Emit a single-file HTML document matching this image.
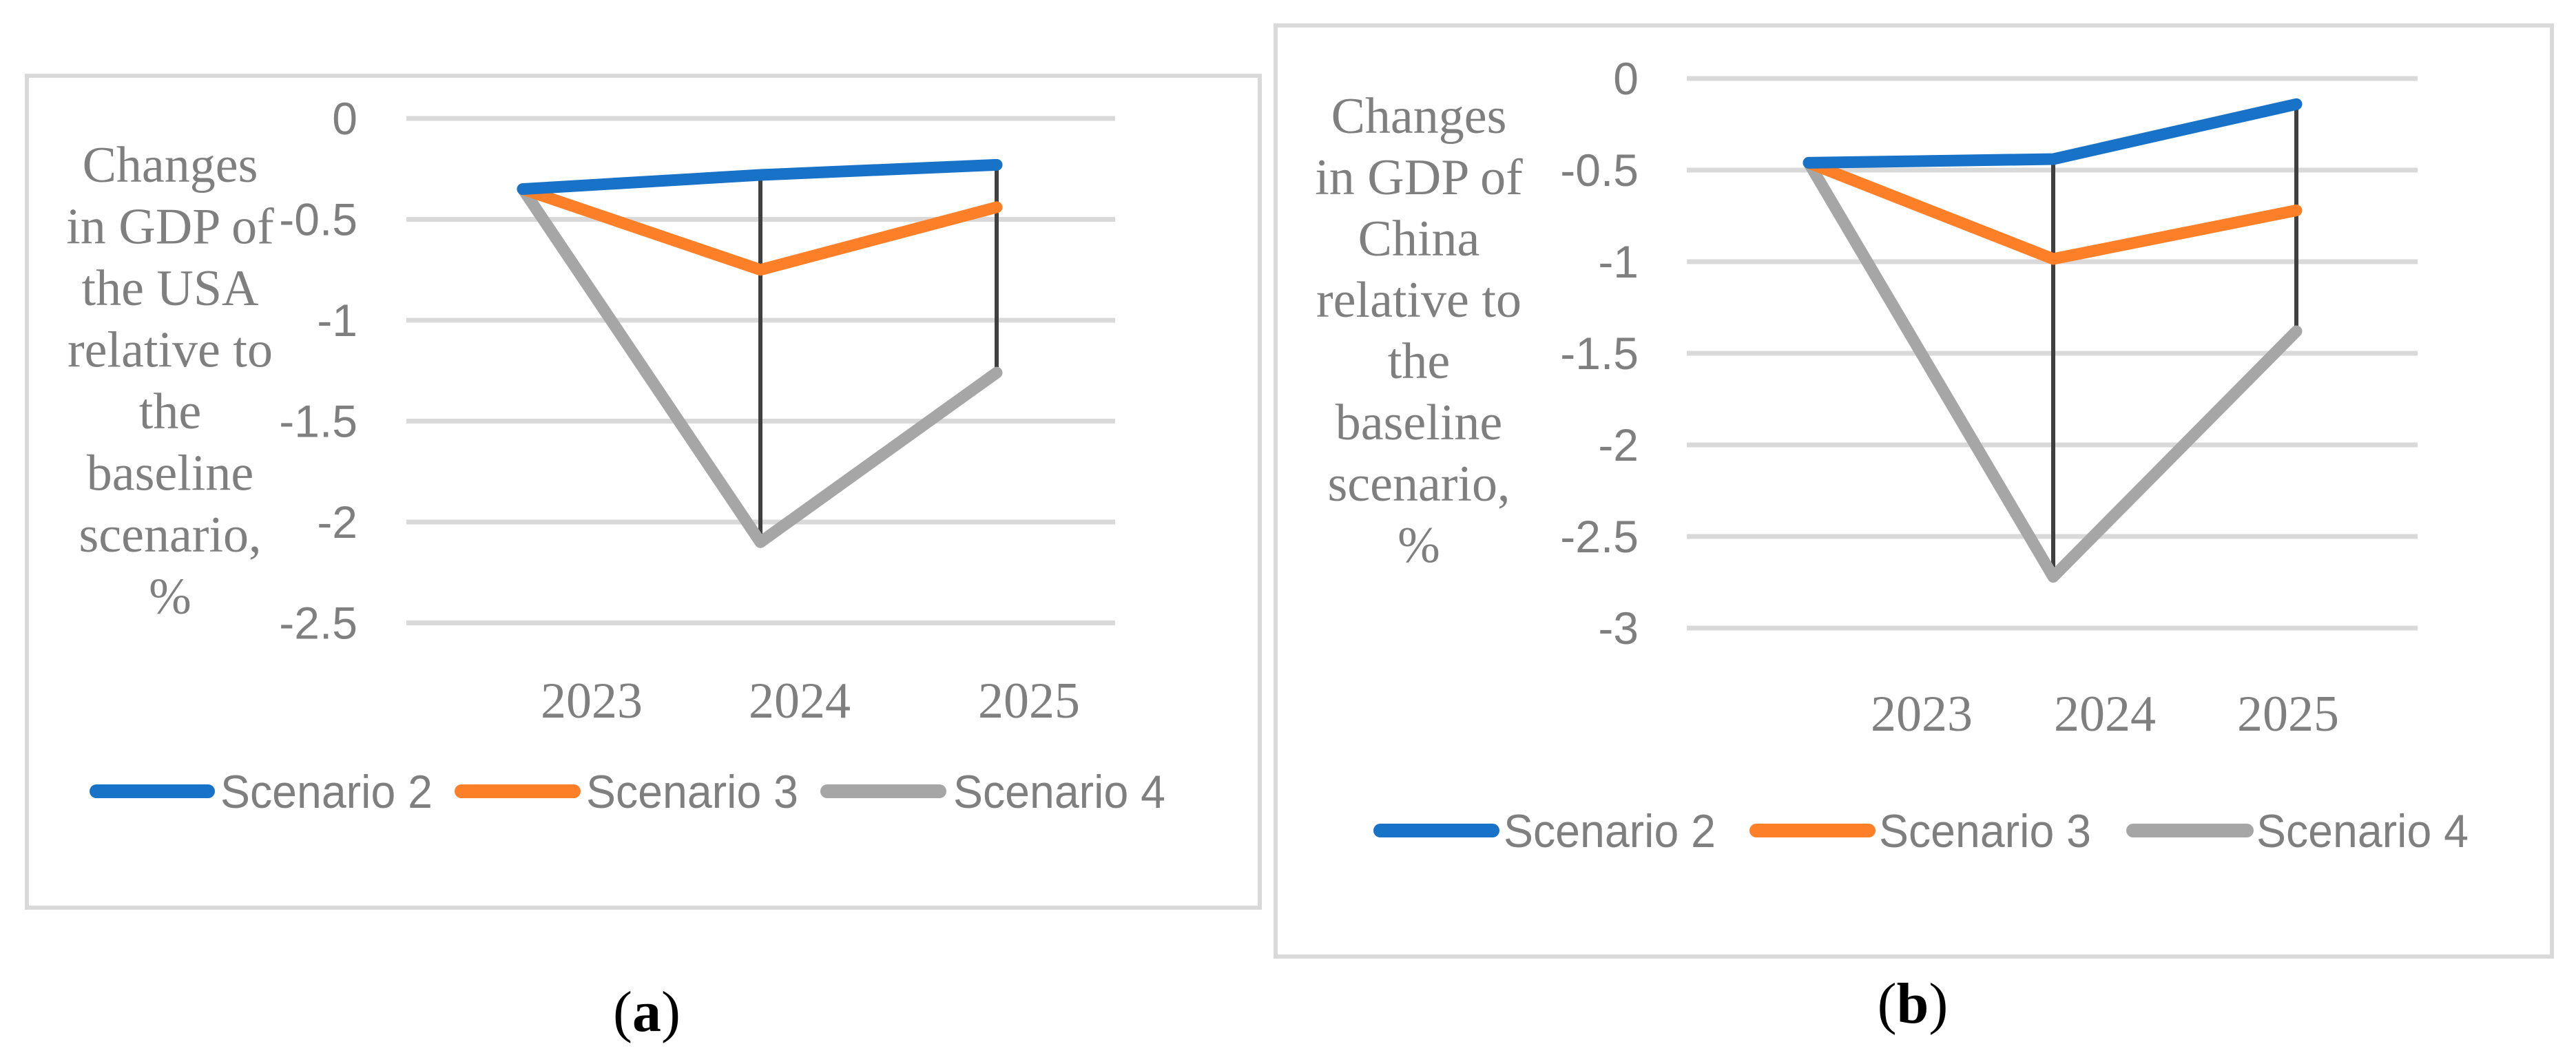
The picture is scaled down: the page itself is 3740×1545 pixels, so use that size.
<!DOCTYPE html>
<html><head><meta charset="utf-8"><style>
html,body{margin:0;padding:0;background:#fff;}
svg{display:block;}
.serif{font-family:"Liberation Serif",serif;fill:#7f7f7f;}
.sans{font-family:"Liberation Sans",sans-serif;fill:#7f7f7f;}
</style></head><body>
<svg id="fig" width="3740" height="1545" viewBox="0 0 3740 1545" xmlns="http://www.w3.org/2000/svg"></svg>
<script>
const categories = ["2023","2024","2025"];
const usaS2 = [-0.35,-0.28,-0.23];
const usaS3 = [-0.35,-0.75,-0.44];
const usaS4 = [-0.35,-2.1,-1.26];
const chinaS2 = [-0.46,-0.44,-0.14];
const chinaS3 = [-0.46,-0.985,-0.72];
const chinaS4 = [-0.46,-2.72,-1.38];
const usaTicks = [0,-0.5,-1,-1.5,-2,-2.5];
const chinaTicks = [0,-0.5,-1,-1.5,-2,-2.5,-3];
const seriesNames = ["Scenario 2","Scenario 3","Scenario 4"];
const usaTitle = ["Changes","in GDP of","the USA","relative to","the","baseline","scenario,","%"];
const chinaTitle = ["Changes","in GDP of","China","relative to","the","baseline","scenario,","%"];

const NS="http://www.w3.org/2000/svg";
const svg=document.getElementById('fig');
const colors=["#1872c7","#fd7f27","#a6a6a6"];
function mk(tag,attrs,parent){const e=document.createElementNS(NS,tag);for(const k in attrs)e.setAttribute(k,attrs[k]);(parent||svg).appendChild(e);return e;}

function panel(cfg){
  const g=mk('g',{});
  
  
  const box=mk('rect',{x:cfg.box[0],y:cfg.box[1],width:cfg.box[2]-cfg.box[0],height:cfg.box[3]-cfg.box[1],fill:'none',stroke:'#d9d9d9','stroke-width':6},g);
  
  
  const y=v=>cfg.y0+(0-v)*cfg.unit;
  const x=i=>cfg.px[i];
  cfg.ticks.forEach(t=>{
    const gl=mk('line',{x1:cfg.gx[0],x2:cfg.gx[1],y1:y(t),y2:y(t),stroke:'#d9d9d9','stroke-width':7},g);
    
    
    const tl=mk('text',{x:cfg.tickX,y:y(t)+23,'text-anchor':'end','font-size':66,class:'sans'},g);
    tl.textContent=String(t);
    
    
  });
  for(let i=1;i<categories.length;i++){
    const vals=[cfg.s[0][i],cfg.s[1][i],cfg.s[2][i]];
    const dl=mk('line',{x1:x(i),x2:x(i),y1:y(Math.max(...vals)),y2:y(Math.min(...vals)),stroke:'#404040','stroke-width':6},g);
    
    
  }
  [2,1,0].forEach(k=>{
    const pts=cfg.s[k].map((v,i)=>x(i)+','+y(v)).join(' ');
    const pl=mk('polyline',{points:pts,fill:'none',stroke:colors[k],'stroke-width':17,'stroke-linecap':'round','stroke-linejoin':'round'},g);
    
    
  });
  categories.forEach((c,i)=>{
    const t=mk('text',{x:cfg.lx[i],y:cfg.labelY,'text-anchor':'middle','font-size':74,class:'serif'},g);
    t.textContent=c;
    
    
  });
  cfg.title.forEach((l,i)=>{
    const t=mk('text',{x:cfg.titleX,y:cfg.titleY+i*cfg.titleStep,'text-anchor':'middle','font-size':74,class:'serif'},g);
    t.textContent=l;
    
    
  });
  seriesNames.forEach((n,k)=>{
    const lg=mk('g',{},g);
    
    
    mk('line',{x1:cfg.leg[k][0],x2:cfg.leg[k][1],y1:cfg.legY,y2:cfg.legY,stroke:colors[k],'stroke-width':20,'stroke-linecap':'round'},lg);
    const t=mk('text',{x:cfg.leg[k][2],y:cfg.legY+24,'font-size':68,class:'sans',textLength:308,lengthAdjust:'spacingAndGlyphs'},lg);
    t.textContent=n;
  });
  const cap=mk('text',{x:cfg.cap[0],y:cfg.cap[1],'text-anchor':'middle','font-size':84,class:'serif',style:'fill:#000'},g);
  
  
  cap.innerHTML='(<tspan font-weight="bold">'+cfg.capLetter+'</tspan>)';
}

panel({name:'chart-usa',box:[39,110,1829,1318],y0:172,unit:293,ticks:usaTicks,gx:[590,1619],tickX:519,
  px:[759,1104,1447],lx:[859,1161,1494],labelY:1042,s:[usaS2,usaS3,usaS4],
  title:usaTitle,titleX:247,titleY:264,titleStep:89.5,
  legY:1149,leg:[[140,302,320],[670,833,851],[1201,1364,1384]],cap:[939,1497],capLetter:'a'});
panel({name:'chart-china',box:[1852,37,3705,1389],y0:114,unit:266,ticks:chinaTicks,gx:[2449,3510],tickX:2379,
  px:[2626,2981,3334],lx:[2790,3056,3322],labelY:1061,s:[chinaS2,chinaS3,chinaS4],
  title:chinaTitle,titleX:2060,titleY:193,titleStep:89,
  legY:1206,leg:[[2004,2167,2183],[2550,2713,2728],[3097,3262,3276]],cap:[2777,1485],capLetter:'b'});
</script>
</body></html>
